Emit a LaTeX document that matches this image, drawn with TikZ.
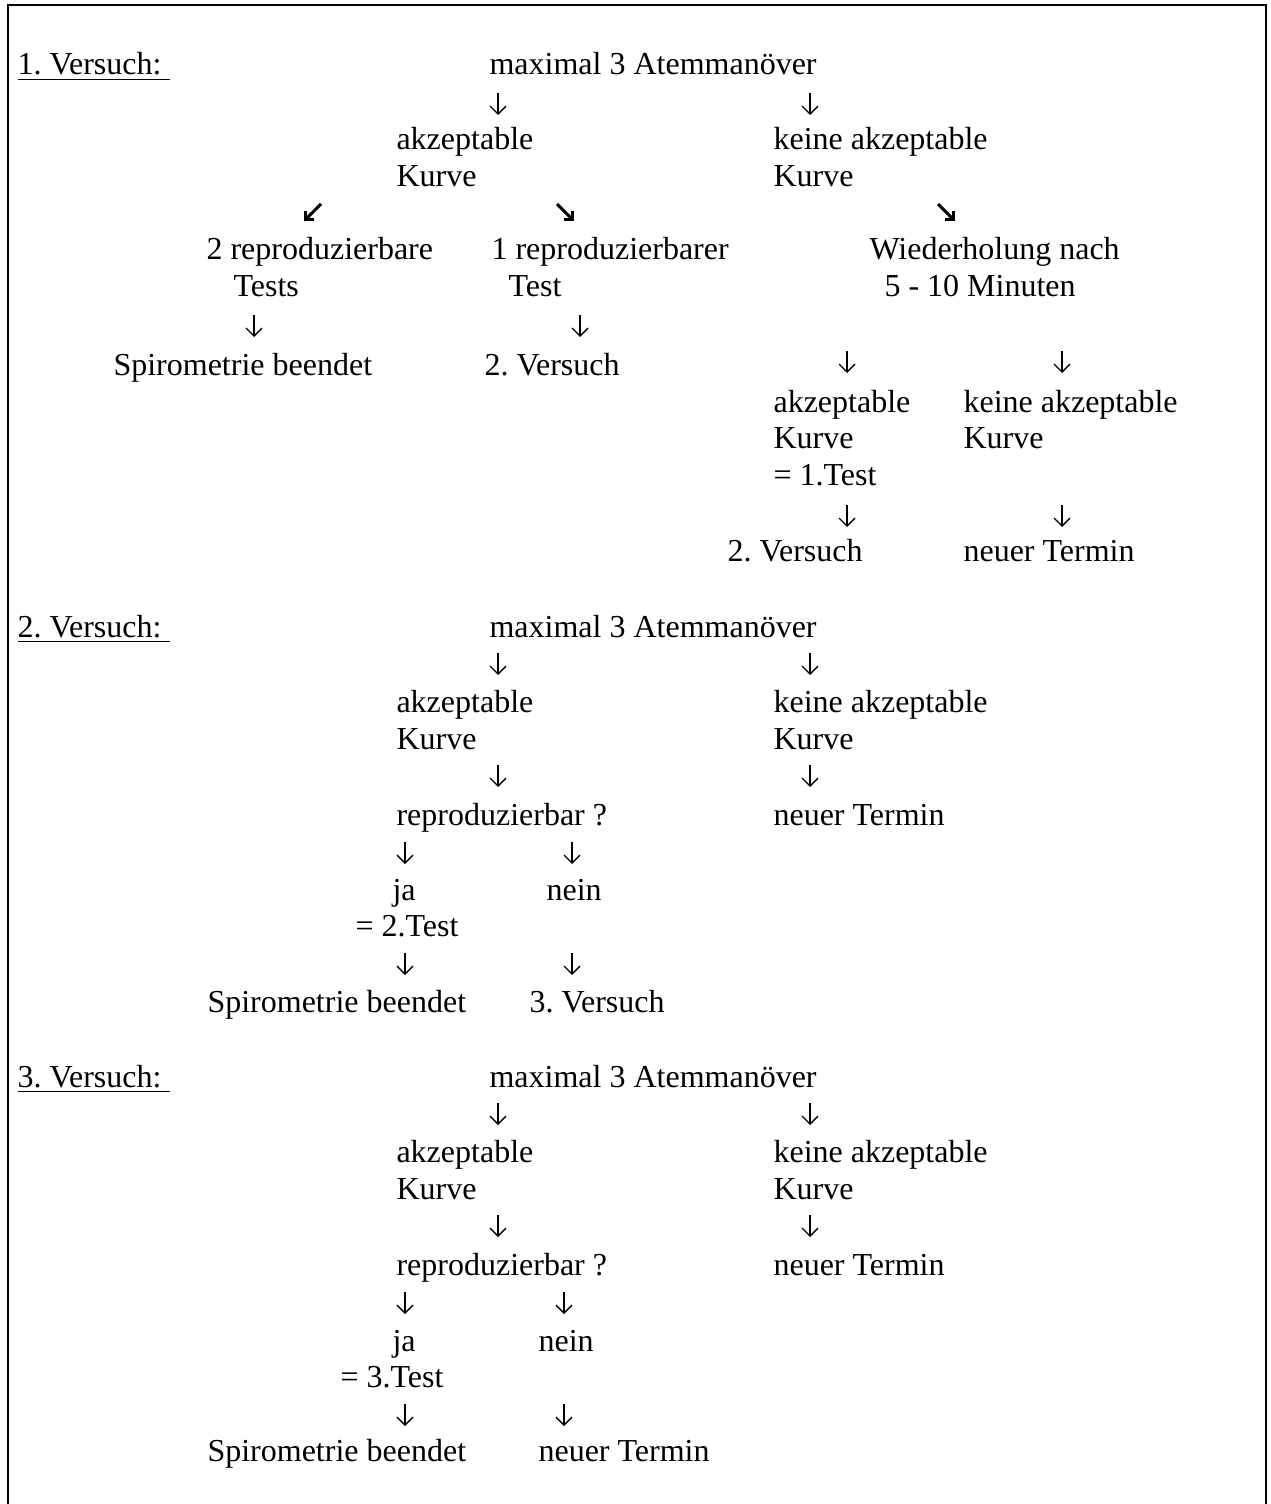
\documentclass[tikz,border=0pt]{standalone}
\usepackage{fontspec}
\setmainfont{Liberation Serif}
\usetikzlibrary{arrows.meta}

\begin{document}
\begin{tikzpicture}[
    x=0.375pt, y=-0.375pt,
    txt/.style={anchor=base west, inner sep=0pt, font=\fontsize{12}{14}\selectfont\frenchspacing},
    dn/.style={-{Straight Barb[length=3pt,width=6pt]}, line width=0.5pt},
    dg/.style={-{Straight Barb[length=2.2pt,width=4.4pt]}, line width=1.1pt},
  ]
  \useasboundingbox (0,0) rectangle (1270,1504);
  % frame, open at the bottom
  \draw[line width=1pt] (8,1504) -- (8,5) -- (1266,5) -- (1266,1504);

  % 1. Versuch
  \node[txt] (v1)  at (17,75)   {\underline{1. Versuch:\ }};
  \node[txt] (m1)  at (489,75)  {maximal 3 Atemmanöver};
  \node[txt] (a1)  at (396,150) {akzeptable};
  \node[txt] (a1k) at (396,187) {Kurve};
  \node[txt] (k1)  at (773,150) {keine akzeptable};
  \node[txt] (k1k) at (773,187) {Kurve};
  \node[txt] (r2)  at (206,260) {2 reproduzierbare};
  \node[txt] (r2t) at (233,297) {Tests};
  \node[txt] (r1)  at (491,260) {1 reproduzierbarer};
  \node[txt] (r1t) at (508,297) {Test};
  \node[txt] (w1)  at (869,260) {Wiederholung nach};
  \node[txt] (w1m) at (884,297) {5 - 10 Minuten};
  \node[txt] (e1)  at (113,376) {Spirometrie beendet};
  \node[txt] (n1)  at (484,376) {2. Versuch};
  \node[txt] (wa)  at (773,412) {akzeptable};
  \node[txt] (wak) at (773,448) {Kurve};
  \node[txt] (wat) at (773,485) {= 1.Test};
  \node[txt] (wk)  at (963,412) {keine akzeptable};
  \node[txt] (wkk) at (963,448) {Kurve};
  \node[txt] (wv)  at (727,561) {2. Versuch};
  \node[txt] (wt)  at (963,561) {neuer Termin};

  % 2. Versuch
  \node[txt] (v2)  at (17,637)   {\underline{2. Versuch:\ }};
  \node[txt] (m2)  at (489,637)  {maximal 3 Atemmanöver};
  \node[txt] (a2)  at (396,712)  {akzeptable};
  \node[txt] (a2k) at (396,749)  {Kurve};
  \node[txt] (k2)  at (773,712)  {keine akzeptable};
  \node[txt] (k2k) at (773,749)  {Kurve};
  \node[txt] (q2)  at (396,825)  {reproduzierbar ?};
  \node[txt] (t2)  at (773,825)  {neuer Termin};
  \node[txt] (j2)  at (392,900)  {ja};
  \node[txt] (nn2) at (546,900)  {nein};
  \node[txt] (jt2) at (355,936)  {= 2.Test};
  \node[txt] (e2)  at (207,1012) {Spirometrie beendet};
  \node[txt] (n2)  at (529,1012) {3. Versuch};

  % 3. Versuch
  \node[txt] (v3)  at (17,1087)  {\underline{3. Versuch:\ }};
  \node[txt] (m3)  at (489,1087) {maximal 3 Atemmanöver};
  \node[txt] (a3)  at (396,1162) {akzeptable};
  \node[txt] (a3k) at (396,1199) {Kurve};
  \node[txt] (k3)  at (773,1162) {keine akzeptable};
  \node[txt] (k3k) at (773,1199) {Kurve};
  \node[txt] (q3)  at (396,1275) {reproduzierbar ?};
  \node[txt] (t3)  at (773,1275) {neuer Termin};
  \node[txt] (j3)  at (392,1351) {ja};
  \node[txt] (nn3) at (538,1351) {nein};
  \node[txt] (jt3) at (340,1387) {= 3.Test};
  \node[txt] (e3)  at (207,1461) {Spirometrie beendet};
  \node[txt] (n3)  at (538,1461) {neuer Termin};

  % down arrows
  \foreach \n/\x/\y in {d1/498/93, d2/810/93, d3/254/315, d4/580/315,
      d5/847/351, d6/1062/351, d7/847/505, d8/1062/505,
      d9/498/653, d10/810/653, d11/498/765, d12/810/765,
      d13/405/842, d14/572/842, d15/405/953, d16/572/953,
      d17/498/1103, d18/810/1103, d19/498/1215, d20/810/1215,
      d21/405/1292, d22/564/1292, d23/405/1404, d24/564/1404} {
    \coordinate (\n a) at (\x,\y);
    \coordinate (\n b) at (\x,\y+22);
    \draw[dn] (\n a) -- (\n b);
  }

  % slanted arrows
  \coordinate (s1a) at (321,204); \coordinate (s1b) at (304,221);
  \coordinate (s2a) at (557,204); \coordinate (s2b) at (574,221);
  \coordinate (s3a) at (938,204); \coordinate (s3b) at (955,221);
  \draw[dg] (s1a) -- (s1b);
  \draw[dg] (s2a) -- (s2b);
  \draw[dg] (s3a) -- (s3b);
\end{tikzpicture}
\end{document}
